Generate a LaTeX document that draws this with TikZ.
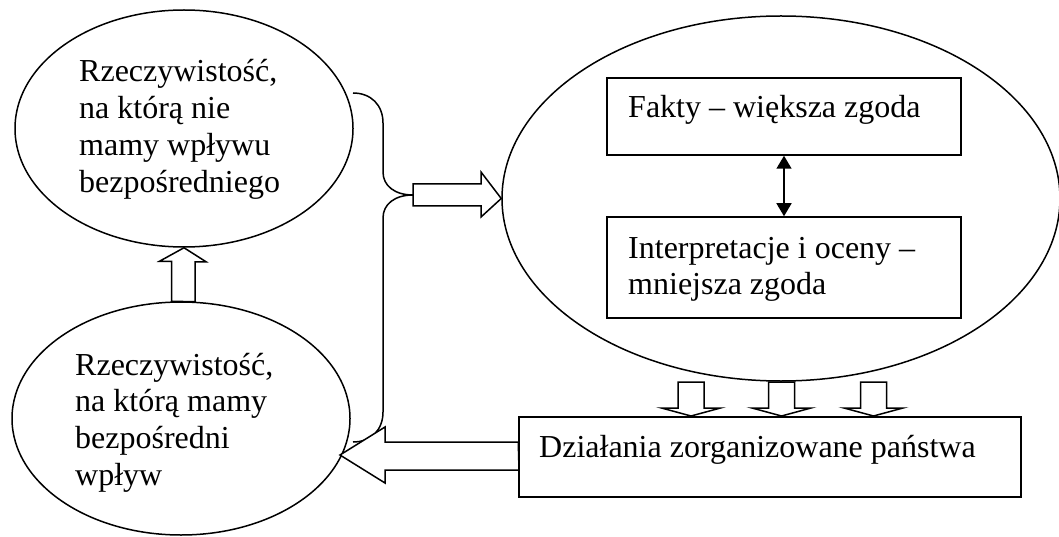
\documentclass[tikz,border=0pt]{standalone}
\usepackage{fontspec}
\setmainfont{Liberation Serif}
\usetikzlibrary{shapes.geometric,arrows.meta}
\begin{document}
\begin{tikzpicture}[x=1pt,y=-1pt,
  outline/.style={draw,line width=1.5pt},
  oval/.style={outline,ellipse,inner sep=0pt},
  panel/.style={outline,rectangle,inner sep=0pt},
  txt/.style={font=\fontsize{32}{36.7}\selectfont,align=left,inner sep=0pt,anchor=base west},
  hollow/.style={draw,line width=1.5pt,fill=white,line join=miter},
  link/.style={line width=1.5pt}
]
\useasboundingbox (0,0) rectangle (1059,537);

% ovals
\node[oval,minimum width=338pt,minimum height=237pt] (real1) at (184,128.5) {};
\node[oval,minimum width=338pt,minimum height=233pt] (real2) at (181,418.5) {};
\node[oval,minimum width=558pt,minimum height=365pt] (views) at (781,198.5) {};

% boxes
\node[panel,minimum width=354pt,minimum height=77pt] (facts) at (784,116.5) {};
\node[panel,minimum width=354pt,minimum height=101pt] (interp) at (784,267.5) {};
\node[panel,minimum width=502pt,minimum height=80pt] (state) at (770,457) {};

% texts (anchored at the baseline of their last line)
\node[txt] (t1) at (79,192.1) {Rzeczywistość,\\na którą nie\\mamy wpływu\\bezpośredniego};
\node[txt] (t2) at (75,485.1) {Rzeczywistość,\\na którą mamy\\bezpośredni\\wpływ};
\node[txt] (t3) at (628,118) {Fakty – większa zgoda};
\node[txt] (t4) at (628,294.7) {Interpretacje i oceny –\\mniejsza zgoda};
\node[txt] (t5) at (539,457) {Działania zorganizowane państwa};

% double arrow between the boxes
\draw[link,{Triangle[width=15pt,length=13pt]}-{Triangle[width=15pt,length=13pt]}]
  (facts.south) -- (interp.north);

% brace gathering both realities
\coordinate (bTop) at (353,93);
\coordinate (bMid) at (413,195);
\coordinate (bBot) at (353,442);
\draw[link] (bTop) .. controls (371,93) and (383,105) .. (383,123) -- (383,172)
  .. controls (383,186) and (395,195) .. (bMid)
  .. controls (395,195) and (383,204) .. (383,218) -- (383,412)
  .. controls (383,430) and (371,442) .. (bBot);

% block arrows
\draw[hollow] (real2.north) ++(-9.5,0) -- ++(0,-40) -- ++(-12,0) -- (real1.south)
  -- ++(22,14) -- ++(-11,0) -- ++(0,40) -- cycle;
\draw[hollow] (bMid) ++(0,-11) -- (481,184) -- (481,172) -- (views.west)
  -- (481,217) -- (481,206) -- (413,206) -- cycle;
\draw[hollow] (state.west) ++(0,-15) -- (385,442) -- (385,427) -- (340,455)
  -- (385,483) -- (385,470) -- (519,470) -- cycle;
\foreach \cx/\nm in {691/a,781.5/b,873.5/c}{
  \coordinate (dn\nm) at (\cx,416);
  \draw[hollow] (\cx-13,382) -- (\cx+13,382) -- (\cx+13,408) -- (\cx+29.5,408)
    -- (dn\nm) -- (\cx-29.5,408) -- (\cx-13,408) -- cycle;
}
\end{tikzpicture}
\end{document}
